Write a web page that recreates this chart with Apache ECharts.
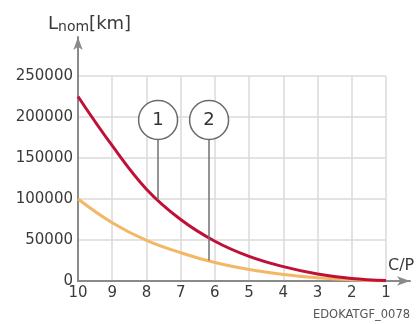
<!DOCTYPE html>
<html>
<head>
<meta charset="utf-8">
<title>Lnom</title>
<script src="https://cdn.jsdelivr.net/npm/echarts@6/dist/echarts.min.js"></script>
<style>
    html, body { margin: 0; padding: 0; background: #fff; }
    #main { width: 419px; height: 324px; }
</style>
</head>
<body>
<div id="main"></div>
<script type="text/javascript">
    // C/P ticks (left to right) and the two life curves
    var cpValues = [10, 9, 8, 7, 6, 5, 4, 3, 2, 1];
    var curve1 = [225000, 165000, 112000, 75000, 48500, 30000, 17500, 8500, 3000, 500];
    var curve2 = [100000, 71000, 49500, 34500, 22500, 14000, 8000, 4000, 1500, 0];

    // callouts: position on C/P, circle centre, leader start, leader end
    var calloutLabels = ['1', '2'];
    var calloutCP = [7.66, 6.17];
    var calloutCircleY = [196400, 196400];
    var calloutLineTop = [172400, 172400];
    var calloutLineEnd = [99000, 25000];

    var font = 'DejaVu Sans';
    var textColor = '#3a3a3a';
    var axisGray = '#8a8a8a';

    function pairs(ys) {
        var out = [];
        for (var i = 0; i < cpValues.length; i++) {
            out.push([cpValues[i], ys[i]]);
        }
        return out;
    }

    function callout(i) {
        return {
            point: {
                coord: [calloutCP[i], calloutCircleY[i]],
                value: calloutLabels[i]
            },
            line: [
                { coord: [calloutCP[i], calloutLineTop[i]] },
                { coord: [calloutCP[i], calloutLineEnd[i]] }
            ]
        };
    }

    var markStyle = {
        markPoint: {
            symbol: 'circle',
            symbolSize: 39,
            silent: true,
            itemStyle: { color: '#fff', borderColor: '#6a6a6a', borderWidth: 1.5 },
            label: { show: true, color: '#333', fontFamily: font, fontSize: 18, formatter: '{c}' },
            data: []
        },
        markLine: {
            symbol: 'none',
            silent: true,
            z: 5,
            label: { show: false },
            lineStyle: { color: '#707070', width: 1.5, type: 'solid' },
            data: []
        }
    };

    var c1 = callout(0), c2 = callout(1);

    var myChart = echarts.init(document.getElementById('main'), null, { renderer: 'canvas' });
    var option = {
        animation: false,
        title: [
            {
                text: '{a|L}{b|nom}{a|[km]}',
                left: 43,
                top: 10,
                textStyle: {
                    rich: {
                        a: { fontFamily: font, fontSize: 18, fontWeight: 'normal', color: textColor },
                        b: { fontFamily: font, fontSize: 14, fontWeight: 'normal', color: textColor, padding: [5, 0, 0, 0] }
                    }
                }
            },
            {
                text: 'C/P',
                left: 388,
                top: 258,
                padding: 0,
                textStyle: { fontFamily: font, fontSize: 16, fontWeight: 'normal', color: textColor }
            },
            {
                text: 'EDOKATGF_0078',
                left: 313,
                top: 309,
                padding: 0,
                textStyle: { fontFamily: font, fontSize: 11.5, fontWeight: 'normal', color: '#555' }
            }
        ],
        grid: [
            { left: 78, right: 33, top: 76, bottom: 43 },
            { left: 78, right: 9, top: 37, bottom: 43 }
        ],
        xAxis: [
            {
                type: 'value',
                gridIndex: 0,
                inverse: true,
                min: 1,
                max: 10,
                interval: 1,
                axisLine: { show: false },
                axisTick: { show: false },
                axisLabel: { color: textColor, fontFamily: font, fontSize: 15, margin: 5 },
                splitLine: { show: true, lineStyle: { color: '#dadada', width: 1.5 } }
            },
            {
                type: 'value',
                gridIndex: 1,
                min: 0,
                max: 1,
                axisLine: {
                    show: true,
                    symbol: ['none', 'arrow'],
                    symbolSize: [7, 13],
                    lineStyle: { color: axisGray, width: 2 }
                },
                axisTick: { show: false },
                axisLabel: { show: false },
                splitLine: { show: false }
            }
        ],
        yAxis: [
            {
                type: 'value',
                gridIndex: 0,
                min: 0,
                max: 250000,
                interval: 50000,
                axisLine: { show: false },
                axisTick: { show: false },
                axisLabel: {
                    color: textColor, fontFamily: font, fontSize: 15, margin: 5,
                    formatter: function (v) { return String(v); }
                },
                splitLine: { show: true, lineStyle: { color: '#dadada', width: 1.5 } }
            },
            {
                type: 'value',
                gridIndex: 1,
                min: 0,
                max: 1,
                axisLine: {
                    show: true,
                    symbol: ['none', 'arrow'],
                    symbolSize: [7, 13],
                    lineStyle: { color: axisGray, width: 2 }
                },
                axisTick: { show: false },
                axisLabel: { show: false },
                splitLine: { show: false }
            }
        ],
        series: [
            {
                name: '1',
                type: 'line',
                xAxisIndex: 0,
                yAxisIndex: 0,
                smooth: 0.4,
                showSymbol: false,
                z: 3,
                lineStyle: { color: '#bf1038', width: 3 },
                data: pairs(curve1),
                markPoint: echarts.util.merge({ data: [c1.point] }, markStyle.markPoint),
                markLine: echarts.util.merge({ data: [c1.line] }, markStyle.markLine)
            },
            {
                name: '2',
                type: 'line',
                xAxisIndex: 0,
                yAxisIndex: 0,
                smooth: 0.4,
                showSymbol: false,
                z: 2,
                lineStyle: { color: '#f4b766', width: 3 },
                data: pairs(curve2),
                markPoint: echarts.util.merge({ data: [c2.point] }, markStyle.markPoint),
                markLine: echarts.util.merge({ data: [c2.line] }, markStyle.markLine)
            }
        ]
    };
    myChart.setOption(option);
</script>
</body>
</html>
